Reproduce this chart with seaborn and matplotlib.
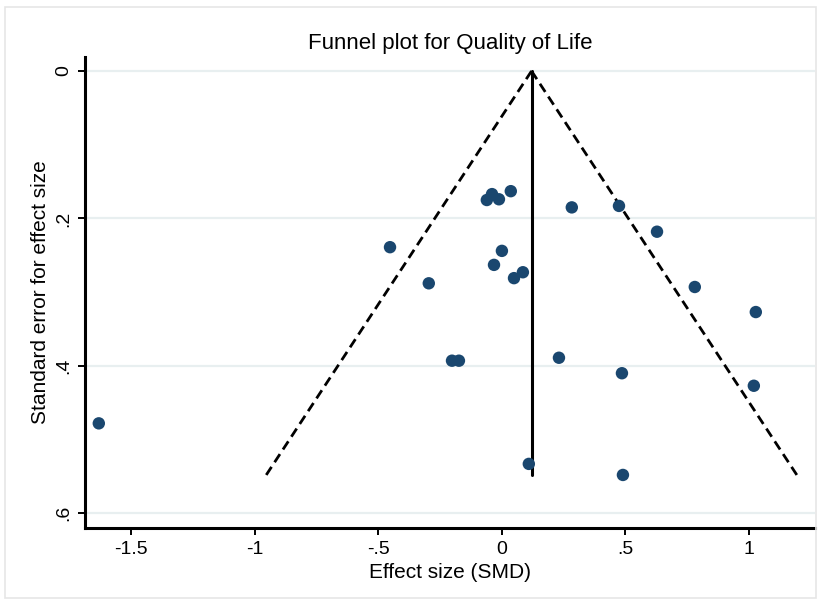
import numpy as np
import pandas as pd
import matplotlib
matplotlib.use("Agg")
import matplotlib.pyplot as plt
import seaborn as sns

# study-level estimates
smd = [-1.632, -0.453, -0.296, -0.202, -0.174, -0.061, -0.040, -0.012, 0.036,
       0.000, -0.032, 0.049, 0.085, 0.283, 0.474, 0.628, 0.781, 1.028,
       1.020, 0.486, 0.231, 0.109, 0.490]
se = [0.478, 0.239, 0.288, 0.393, 0.393, 0.175, 0.167, 0.174, 0.163,
      0.244, 0.263, 0.281, 0.273, 0.185, 0.183, 0.218, 0.293, 0.327,
      0.427, 0.410, 0.389, 0.533, 0.548]

pooled_smd = 0.12
max_se = 0.548

x_ticks = [-1.5, -1, -0.5, 0, 0.5, 1]
x_ticklabels = ['-1.5', '-1', '-.5', '0', '.5', '1']
y_ticks = [0, 0.2, 0.4, 0.6]
y_ticklabels = ['0', '.2', '.4', '.6']

df = pd.DataFrame({'SMD': smd, 'SE': se})

sns.set_theme(style="white")
plt.rcParams['font.family'] = ['Liberation Sans', 'DejaVu Sans']

fig = plt.figure(figsize=(8.21, 6.04), dpi=100)
fig.patch.set_facecolor('white')
fig.add_artist(plt.Rectangle((0.006, 0.01), 0.988, 0.978, transform=fig.transFigure,
                             fill=False, edgecolor='#e6e6e6', linewidth=1.2))
ax = fig.add_axes([0.1035, 0.1258, 0.889, 0.7798])

for yv in y_ticks:
    ax.axhline(yv, color='#e8eff0', linewidth=1.6, zorder=0)

# pseudo 95% confidence limits
funnel = pd.DataFrame({'SE': [0, max_se]})
ax.plot(pooled_smd - 1.96 * funnel['SE'], funnel['SE'], color='black',
        linestyle=(0, (3.5, 2)), linewidth=2.0, zorder=2)
ax.plot(pooled_smd + 1.96 * funnel['SE'], funnel['SE'], color='black',
        linestyle=(0, (3.5, 2)), linewidth=2.0, zorder=2)
ax.plot([pooled_smd, pooled_smd], [0, max_se], color='black', linewidth=2.2, zorder=2)

sns.scatterplot(x='SMD', y='SE', data=df, ax=ax, color='#1a476f', s=80,
                edgecolor='none', zorder=3)

ax.set_xlim(-1.688, 1.267)
ax.set_ylim(0.62, -0.019)
ax.set_xticks(x_ticks)
ax.set_xticklabels(x_ticklabels)
ax.set_yticks(y_ticks)
ax.set_yticklabels(y_ticklabels, rotation=90, va='center')

ax.tick_params(axis='both', direction='out', length=5, width=1.4, color='black',
               labelsize=14, labelcolor='black', pad=4)
ax.tick_params(axis='x', bottom=True)
ax.tick_params(axis='y', left=True)

for side in ['top', 'right']:
    ax.spines[side].set_visible(False)
for side in ['left', 'bottom']:
    ax.spines[side].set_color('black')
    ax.spines[side].set_linewidth(2.2)

ax.set_title('Funnel plot for Quality of Life', fontsize=16, color='black', pad=6)
ax.set_xlabel('Effect size (SMD)', fontsize=15, color='black', labelpad=4)
ax.set_ylabel('Standard error for effect size', fontsize=15, color='black', labelpad=4)

fig.savefig('out.png', dpi=100)
plt.close()
